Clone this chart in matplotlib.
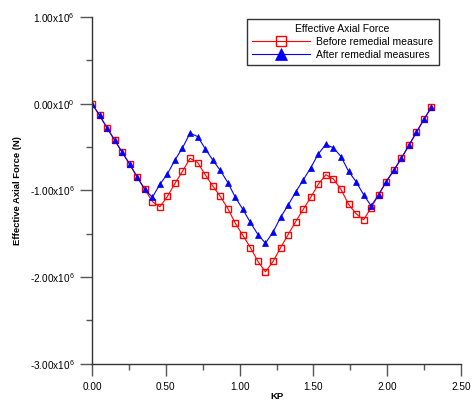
import matplotlib.pyplot as plt
from matplotlib.ticker import FixedLocator, MultipleLocator

plt.rcParams['font.family'] = ['Liberation Sans', 'DejaVu Sans']
plt.rcParams['mathtext.fontset'] = 'custom'
plt.rcParams['mathtext.rm'] = 'Liberation Sans'
plt.rcParams['mathtext.it'] = 'Liberation Sans'

# KP positions along the line
kp = [0.000, 0.051, 0.102, 0.153, 0.204, 0.256, 0.307, 0.358, 0.409, 0.460,
      0.511, 0.562, 0.613, 0.664, 0.716, 0.767, 0.818, 0.869, 0.920, 0.971,
      1.022, 1.073, 1.124, 1.175, 1.227, 1.278, 1.329, 1.380, 1.431, 1.482,
      1.533, 1.584, 1.636, 1.687, 1.738, 1.789, 1.840, 1.891, 1.942, 1.993,
      2.044, 2.096, 2.147, 2.198, 2.249, 2.300]

# effective axial force, units of 1e6 N
before = [0.00, -0.135, -0.28, -0.42, -0.56, -0.70, -0.85, -0.99, -1.13, -1.19,
          -1.07, -0.92, -0.78, -0.63, -0.68, -0.82, -0.95, -1.07, -1.21, -1.38,
          -1.52, -1.66, -1.82, -1.94, -1.82, -1.66, -1.51, -1.36, -1.22, -1.08,
          -0.93, -0.82, -0.87, -0.99, -1.16, -1.27, -1.34, -1.20, -1.05, -0.90,
          -0.77, -0.63, -0.48, -0.33, -0.18, -0.04]
after = [0.00, -0.135, -0.28, -0.42, -0.56, -0.70, -0.85, -0.99, -1.08, -0.93,
         -0.81, -0.65, -0.51, -0.34, -0.38, -0.52, -0.65, -0.77, -0.91, -1.08,
         -1.22, -1.37, -1.51, -1.61, -1.48, -1.31, -1.17, -1.02, -0.88, -0.74,
         -0.58, -0.47, -0.51, -0.61, -0.78, -0.90, -1.05, -1.18, -1.05, -0.90,
         -0.77, -0.63, -0.48, -0.33, -0.18, -0.04]

yticks = [1e6, 0, -1e6, -2e6, -3e6]
ylabels = ['1.00x10$^{6}$', '0.00x10$^{0}$', '-1.00x10$^{6}$',
           '-2.00x10$^{6}$', '-3.00x10$^{6}$']
xticks = [0, 0.5, 1.0, 1.5, 2.0, 2.5]
xlabels = ['0.00', '0.50', '1.00', '1.50', '2.00', '2.50']

fig = plt.figure(figsize=(4.74, 4.0), dpi=100)
ax = fig.add_axes([0.1941, 0.0908, 0.7785, 0.8667])

ax.plot(kp, [v * 1e6 for v in before], color='#ff0000', lw=0.8,
        marker='s', ms=3.9, mfc='none', mec='#ff0000', mew=1.0,
        label='Before remedial measure')
ax.plot(kp, [v * 1e6 for v in after], color='#0000ff', lw=0.8,
        marker='^', ms=5.0, mfc='#0000ff', mec='#0000ff', mew=0.5,
        label='After remedial measures')

ax.set_xlim(0, 2.5)
ax.set_ylim(-3e6, 1e6)
ax.yaxis.set_major_locator(FixedLocator(yticks))
ax.set_yticklabels(ylabels)
ax.yaxis.set_minor_locator(MultipleLocator(0.5e6))
ax.xaxis.set_major_locator(FixedLocator(xticks))
ax.set_xticklabels(xlabels)
ax.xaxis.set_minor_locator(MultipleLocator(0.25))

for s in ['top', 'right']:
    ax.spines[s].set_visible(False)
for s in ['left', 'bottom']:
    ax.spines[s].set_color('#333333')
    ax.spines[s].set_linewidth(1.0)

ax.tick_params(which='major', length=8.5, width=1.0, color='#555555',
               labelsize=7.2, pad=4)
ax.tick_params(which='minor', length=4, width=1.0, color='#555555')
ax.tick_params(axis='x', which='major', pad=5)

ax.set_xlabel('KP', fontsize=6.8, fontweight='bold', labelpad=0)
ax.set_ylabel('Effective Axial Force (N)', fontsize=6.8, fontweight='bold',
              labelpad=5.5)

leg = ax.legend(title='Effective Axial Force', loc='upper right',
                bbox_to_anchor=(0.945, 1.0), fontsize=7.5, title_fontsize=7.5,
                frameon=True, fancybox=False, edgecolor='black',
                handlelength=5.6, borderpad=0.5, labelspacing=0.25,
                handletextpad=0.6, markerscale=1.8, borderaxespad=0.2)
leg.get_frame().set_linewidth(1.0)

fig.savefig('out.png', dpi=100)
